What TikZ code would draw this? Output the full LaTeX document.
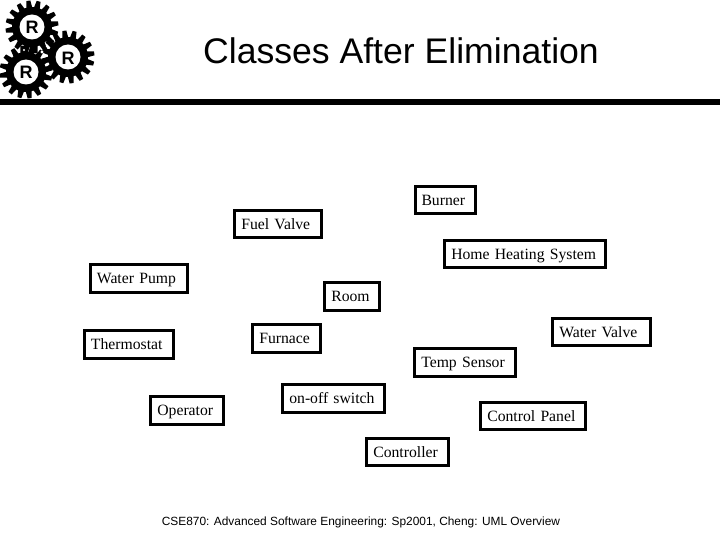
\documentclass[tikz,border=0pt]{standalone}
\usepackage{fontspec}
\setmainfont{Liberation Serif}
\newfontfamily\arialfont{Liberation Sans}
\tikzset{
  x=1pt,y=-1pt,
  box/.style={draw=black,line width=3pt,fill=white,rectangle,inner xsep=6.5pt,inner ysep=0pt,
    text height=11pt,text depth=2pt,align=left,font=\fontsize{15.7}{18}\selectfont},
  lowbox/.style={box,text height=11.8pt,text depth=1.2pt},
  gearbody/.style={fill=black},
  gearhole/.style={fill=white},
  gearletter/.style={font=\arialfont\bfseries\fontsize{18}{20}\selectfont,inner sep=0pt},
  titletext/.style={font=\arialfont\fontsize{35.6}{40}\selectfont,inner sep=0pt,anchor=base},
  foottext/.style={font=\arialfont\fontsize{11.9}{14}\selectfont,inner sep=0pt,anchor=base},
  gearsketch/.pic={
    \fill[gearbody] (0,0) circle (20);
    \foreach \a in {0,22.5,...,337.5}
      \fill[gearbody,rotate=\a+8] (-3,-19) -- (-2,-26.5) -- (2,-26.5) -- (3,-19) -- cycle;
    \fill[gearhole] (0,0) circle (12.5);
  }
}
\begin{document}
\begin{tikzpicture}
\useasboundingbox (0,0) rectangle (720,540);
\fill[white] (0,0) rectangle (720,540);
\pic at (32,27) {gearsketch};
\pic at (68,57) {gearsketch};
\pic at (26,72) {gearsketch};
\fill[white] (42,52) circle (1.6) (24,50) circle (1.2) (47,46) circle (1.3);
\node[gearletter] (r1) at (32,27) {R};
\node[gearletter] (r2) at (68,58) {R};
\node[gearletter] (r3) at (26,72) {R};
\fill[black] (0,99) rectangle (720,105);
\node[titletext] (title) at (401,63.3) {Classes After Elimination};
\node[foottext] (foot) at (361,525.6) {CSE870: Advanced Software Engineering: Sp2001, Cheng: UML Overview};
\node[lowbox,minimum height=27pt,text width=47pt] (burner) at (445,200.3) {\mbox{Burner}};
\node[lowbox,minimum height=27pt,text width=73.4pt] (fuel) at (278,224.3) {\mbox{Fuel Valve}};
\node[lowbox,minimum height=27pt,text width=147.4pt] (home) at (525,254.3) {\mbox{Home Heating System}};
\node[box,minimum height=27.4pt,text width=83.7pt] (pump) at (138.8,278.5) {\mbox{Water Pump}};
\node[box,minimum height=27.4pt,text width=41.4pt] (room) at (352,296.5) {\mbox{Room}};
\node[lowbox,minimum height=27pt,text width=84.4pt] (wvalve) at (601.5,332.3) {\mbox{Water Valve}};
\node[box,minimum height=27.4pt,text width=54.4pt] (furnace) at (286.5,338.5) {\mbox{Furnace}};
\node[box,minimum height=27.4pt,text width=75.7pt] (thermo) at (128.8,344.5) {\mbox{Thermostat}};
\node[box,minimum height=27.4pt,text width=87.4pt] (temp) at (465,362.5) {\mbox{Temp Sensor}};
\node[box,minimum height=27.4pt,text width=88.4pt] (switch) at (333.5,398.5) {\mbox{on-off switch}};
\node[box,minimum height=27.4pt,text width=59.7pt] (operator) at (187.2,410.5) {\mbox{Operator}};
\node[lowbox,minimum height=27pt,text width=91.4pt] (panel) at (533,416.3) {\mbox{Control Panel}};
\node[lowbox,minimum height=27pt,text width=68.4pt] (controller) at (407.5,452.3) {\mbox{Controller}};
\end{tikzpicture}
\end{document}
